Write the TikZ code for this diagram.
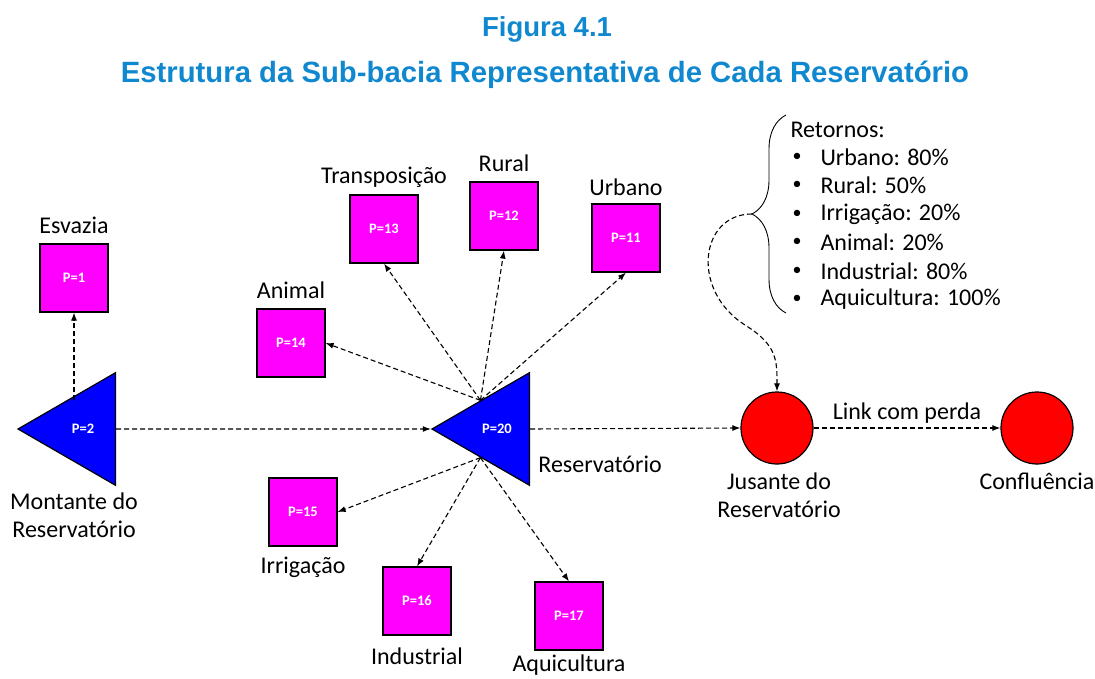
\documentclass[tikz,border=0pt]{standalone}
\usepackage{fontspec}
\setmainfont{Carlito}
\newfontfamily\titlefont{Liberation Sans}
\usetikzlibrary{shapes.geometric,decorations.pathreplacing,arrows.meta}
\definecolor{titleblue}{RGB}{16,136,208}
\definecolor{boxmag}{RGB}{255,0,255}
\definecolor{tankblue}{RGB}{0,0,255}
\definecolor{jusred}{RGB}{255,0,0}
\tikzset{
	box/.style={draw=black, line width=1.2pt, fill=boxmag, minimum size=68pt, inner sep=0pt, text=white, font=\fontsize{14.5}{16}\selectfont\bfseries},
	tank/.style={regular polygon, regular polygon sides=3, shape border rotate=90, draw=black, line width=1.2pt, fill=tankblue, minimum size=130pt, inner sep=0pt, text=white, font=\fontsize{14.5}{16}\selectfont\bfseries},
	junction/.style={circle, draw=black, line width=1.2pt, fill=jusred, minimum size=72pt, inner sep=0pt},
	flow/.style={dash pattern=on 5pt off 3pt, -{Latex[length=8pt,width=6pt]}, line width=1.1pt},
	lbl/.style={font=\fontsize{24}{28}\selectfont, align=center},
}
\begin{document}
\begin{tikzpicture}[x=1pt,y=-1pt]
		\useasboundingbox (0,0) rectangle (1095,679);
		\node[text=titleblue, font=\titlefont\bfseries\fontsize{27.5}{30}\selectfont] (fig) at (547,29) {Figura 4.1};
		\node[text=titleblue, font=\titlefont\bfseries\fontsize{29.3}{30}\selectfont] (tit) at (545,75) {Estrutura da Sub-bacia Representativa de Cada Reservatório};
		
		% reservatorios
		\node[tank] (t2) at (83,429) {P=2};
		\node[tank] (t20) at (497,429) {P=20};
		\node[junction] (jus) at (777,428) {};
		\node[junction] (conf) at (1037,428) {};
		
		% demandas
		\node[box] (p1) at (74,278) {P=1};
		\node[box] (p13) at (384,229) {P=13};
		\node[box] (p12) at (504,216) {P=12};
		\node[box] (p11) at (626,238) {P=11};
		\node[box] (p14) at (291,343) {P=14};
		\node[box] (p15) at (303,512) {P=15};
		\node[box] (p16) at (417,601) {P=16};
		\node[box] (p17) at (569,616) {P=17};
		
		% rotulos
		\node[lbl] (lp1) at (74,225) {Esvazia};
		\node[lbl] (lp13) at (384,177) {Transposição};
		\node[lbl] (lp12) at (504,163) {Rural};
		\node[lbl] (lp11) at (626,187) {Urbano};
		\node[lbl] (lp14) at (291,290) {Animal};
		\node[lbl] (lp15) at (303,567) {Irrigação};
		\node[lbl] (lp16) at (417,656) {Industrial};
		\node[lbl] (lp17) at (569,665) {Aquicultura};
		\node[lbl] (lt2) at (74,515) {Montante do\\Reservatório};
		\node[lbl] (lt20) at (600,464) {Reservatório};
		\node[lbl] (ljus) at (779,495) {Jusante do\\Reservatório};
		\node[lbl] (lconf) at (1037,481) {Confluência};
		
		% ligacoes
		\draw[flow] (p1.south |- t2.120) -- (p1.south);
		\draw[flow] (t2.east) -- (t20.west);
		\draw[flow] (t20.east) -- (jus.west);
		\draw[flow] (jus.east) -- node[lbl, above=1pt] (link) {Link com perda} (conf.west);
		\foreach \p in {p13,p12,p11}{
			\draw[flow] (t20.120) -- (\p.south);
		}
		\draw[flow] (t20.120) -- (p14.east);
		\draw[flow] (t20.240) -- (p15.east);
		\foreach \p in {p16,p17}{
			\draw[flow] (t20.240) -- (\p.north);
		}
		
		% retornos
		\draw[line width=0.9pt, decorate, decoration={brace, amplitude=34pt}] (786,313) -- (786,115);
		\coordinate (bracetip) at (752,214);
		\node[lbl, anchor=west] (ret) at (787,130) {Retornos:};
		\foreach \i/\txt in {0/Urbano: 80\%, 1/Rural: 50\%, 2/Irrigação: 20\%, 3/Animal: 20\%, 4/Industrial: 80\%, 5/Aquicultura: 100\%}{
			\node[font=\fontsize{18}{20}\selectfont] (b\i) at (797,{157+28.5*\i}) {•};
			\node[lbl, anchor=west] (r\i) at (817,{157+28.5*\i}) {\txt};
		}
		\draw[flow] (bracetip) .. controls (700,214) and (690,290) .. (745,325) .. controls (777,345) and (777,360) .. (jus.north);
\end{tikzpicture}
\end{document}
